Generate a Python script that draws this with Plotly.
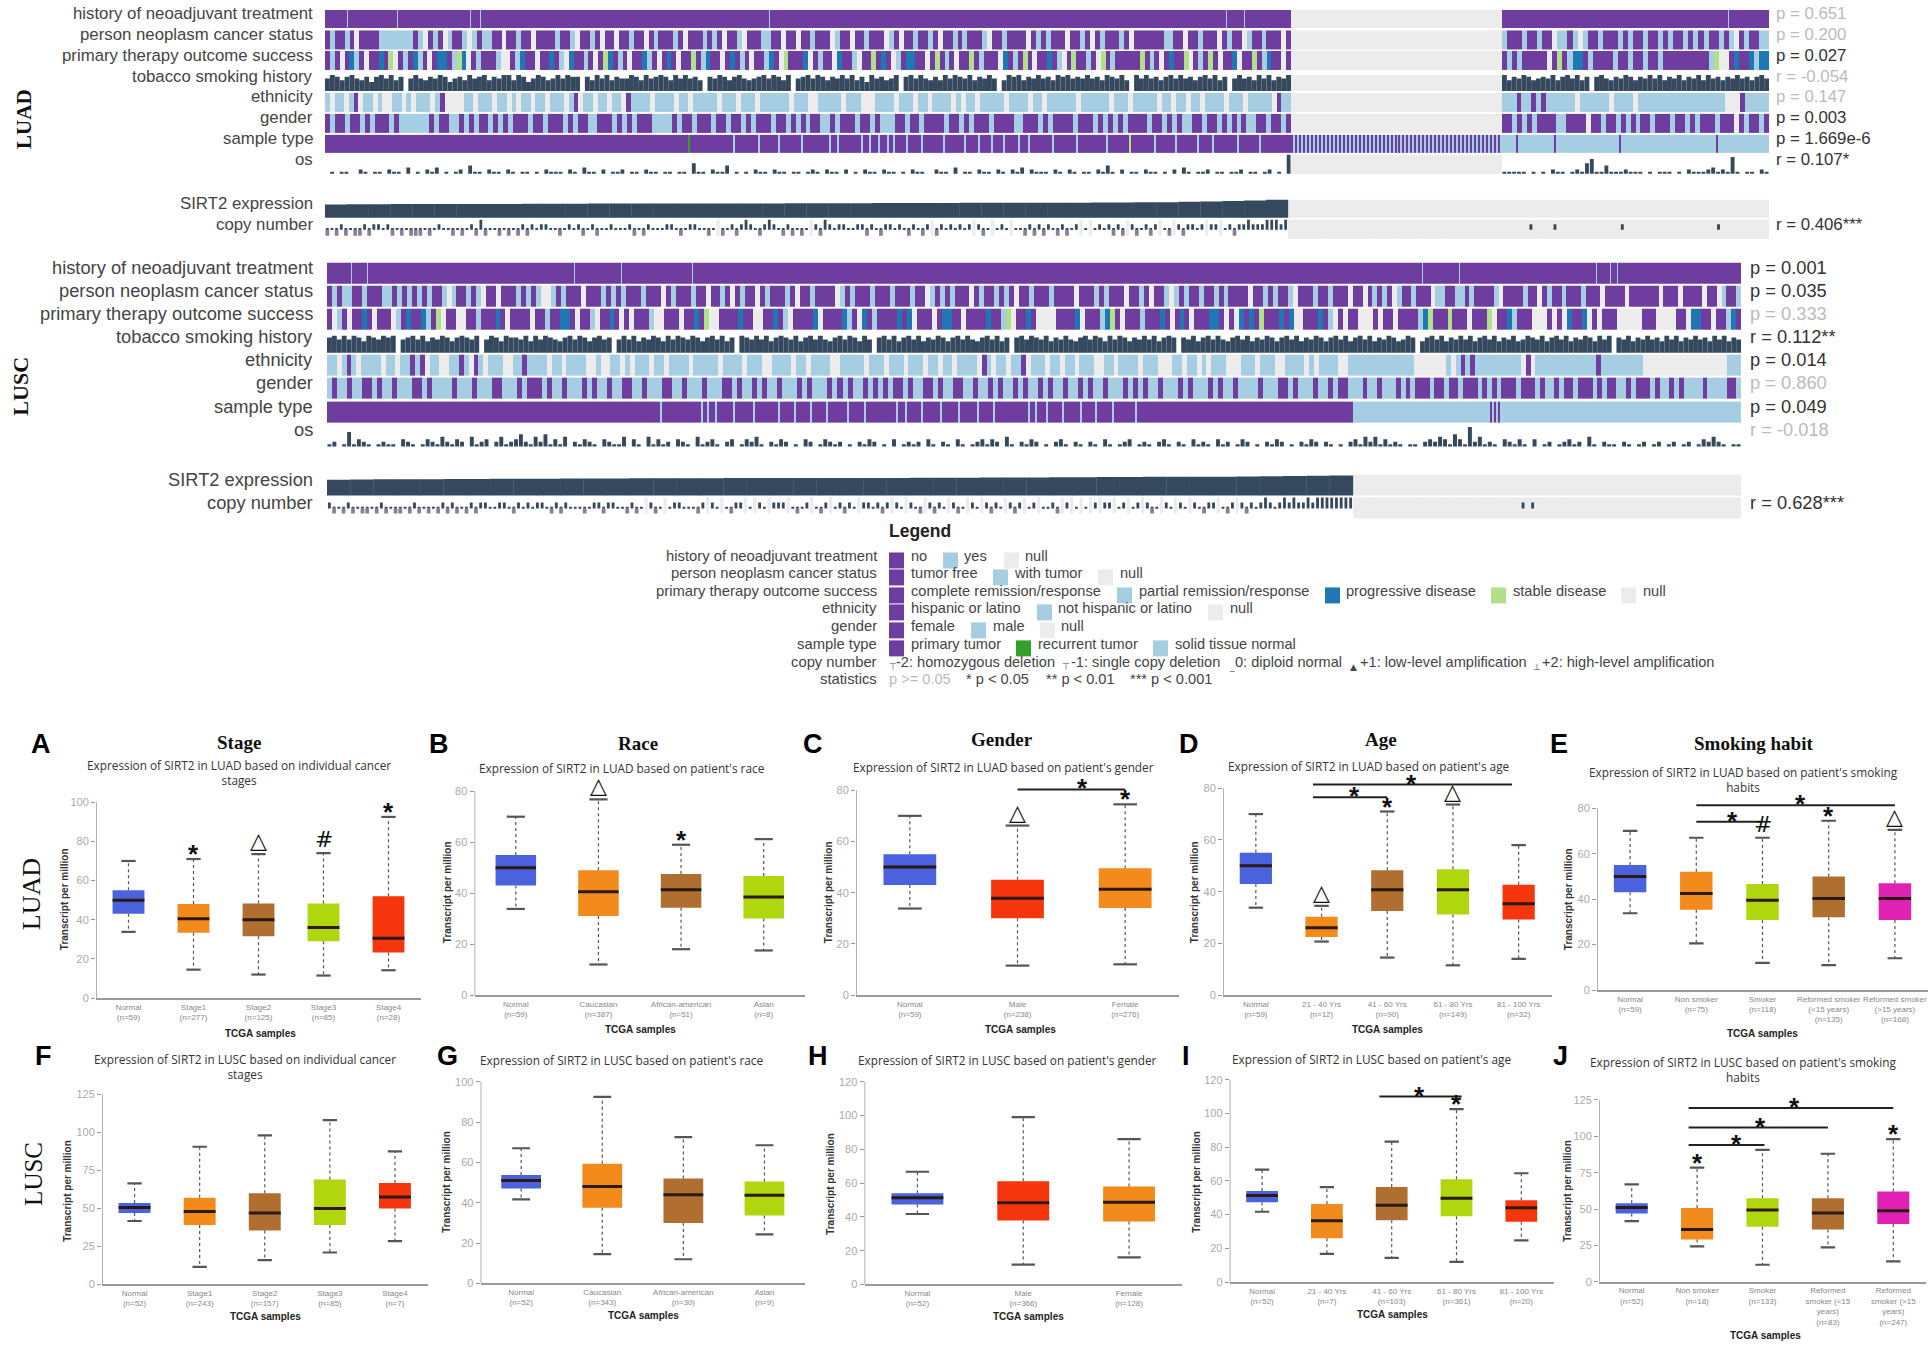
"""SIRT2 expression in LUAD and LUSC: oncoprint-style tracks and box plots by clinical group."""

import numpy as np
import plotly.graph_objects as go

W, H = 1932, 1351
Y_FIX = 1.0035  # small vertical stretch measured against the reference
SANS = "Liberation Sans"
SERIF = "Liberation Serif"
TITLE_FONT = "Open Sans"

# ---- track data: one letter per sample, P/B/G/D/L/R are the legend colours
CODES = {"P": 0, "B": 1, "G": 2, "D": 3, "L": 4, "R": 5}
TRACK_COLORS = ["#6f3c9f", "#a6cee3", "#ececec", "#1f78b4", "#b2df8a", "#33a02c"]
DARK = "#34495e"

TRACK_NAMES = [
    "history of neoadjuvant treatment", "person neoplasm cancer status",
    "primary therapy outcome success", "tobacco smoking history", "ethnicity",
    "gender", "sample type", "os",
]
LUAD_STATS = ["p = 0.651", "p = 0.200", "p = 0.027", "r = -0.054", "p = 0.147",
              "p = 0.003", "p = 1.669e-6", "r = 0.107*"]
LUAD_SIG = [0, 0, 1, 0, 0, 1, 1, 1]
LUSC_STATS = ["p = 0.001", "p = 0.035", "p = 0.333", "r = 0.112**", "p = 0.014",
              "p = 0.860", "p = 0.049", "r = -0.018"]
LUSC_SIG = [1, 1, 0, 1, 1, 0, 1, 0]

# sample indices where the mostly purple tracks break
LUAD_HIST_YES = [22, 72, 145, 155, 444, 901, 919, 1403]
LUSC_HIST_YES = [24, 40, 247, 294, 365, 1095, 1132, 1269, 1283, 1290]
LUAD_SAMPLE_BREAKS = [408, 433, 453, 476, 504, 512, 536, 544, 553, 562, 568, 581, 596, 618, 639,
                      653, 666, 678, 693, 703, 727, 751, 781, 829, 850, 872, 887, 912, 934]
LUAD_SAMPLE_RECURRENT = [363]
LUAD_SAMPLE_STABLE = [804]
LUAD_NORMAL_PRIMARY = [14, 52, 117, 214]
LUSC_SAMPLE_BREAKS = [333, 374, 380, 388, 406, 426, 451, 467, 483, 499, 520, 537, 569, 578, 594,
                      613, 631, 650, 666, 701, 708, 719, 735, 753, 768, 785, 808]
LUSC_NORMAL_PRIMARY = [137, 141, 145]

LUAD_STATUS_L = "PBPPBPGPPPPBBBBBBBPBGPBPGBPPBGBPBBPPGPPBPPGPPPPBPPBGPPBPGPPGPPBPPGPBPPPBPGPPPBPBPGPPBGPPPBBPPGPPGPPBPPPGBPPGPPBPPPGBPGPPBPPBPGPPBPBPPPBGPPBPPPPGPBPBPPPGPPBPGPBPPPBPGPPPPPPBBPPGPPBPPPGPBPPGBPPBPPPGP"
LUAD_STATUS_R = "BPPPBPPBPPGBBPBGBPPBPPPBPBPPBPPBPBPPBPBPBPPBPBGPBPPBB"
LUAD_THERAPY_L = "PBPGPDBPGPPDPLGPBPDBPGPDDPBLDGPBPPPBGGPBDPPGPPDPBGDPPBPGPLDPBPGPPDBPGPDPGPPLPBDPPGPDPBPGPPBDPGLPPPDGPBPPGDPPBGPPLPDPGBPDDPPGPLPBPGPPLPBPPPGDPBPLPGPPDPBGPLPPBPGLPBPPPPPLPBPGPDPPLGPBPLPGPPDGPPLPBDPPGP"
LUAD_THERAPY_R = "PBPBPPPPPGPLPBDDPBPPPPBPPBPPBPPBPPPPPPPPPBLGGPDPPDBDD"
LUAD_TOBACCO_L = "79868976858979680797687985786978968799698579867979880869796877986978986979786087986897678979869078979868797968597867908979768697987968797069896879786989787978698796097978689797868979680797869796879"
LUAD_TOBACCO_R = "9687986787968979680897687986879796879687969786879786897"
LUAD_ETHNIC_L = "BGBBGBPGBBGBGGBBGBGBBBGBPGGGGBBGBBBGBBGBGBBGBBGBBBGBPGBBGBBGBBGPBBBBGBBBBGBBGBBBBBGBBBGBBBGBBBBBBGBBBGGBBBBBGBBBGGGBBBBGBBBGBBGBBBBGBGBBGBBBBBGBBBBGBBGBBBBBBGBBBBBBGBBBGBBBBBGBBGBBGBBGBBBBGBBBGBBBBBGPBB"
LUAD_ETHNIC_R = "BBBPBBPBPBBBBBBGBBBBBBGBBBBGBBBBBBBBBBBBBBBBBBGGGPBBBBB"
LUAD_GENDER_L = "PBPPBPPBPBPPPBPBBBBBBPBPPBBPBPBPPBPBPBPPPBPPBPPPBPBPPBBPPPBPBPBPPPBBBBPBPPBPPPBPPBPPBPBPPPBPPBPBPBPPBBPBPPPBPPBPBBBPPBPPBPPPPBPPBPBPPPBPPPPBBPPPBPBPPPPBPPPBPBPBPBPPPPBPPBPBPBBPPBPPBPBPBPBBPPBPPBP"
LUAD_GENDER_R = "PPBPBPBPPPPBBPPPPGPPBPPBPBPBPPBPPPBPPBPBPPPBPPPGPBPPBP"
LUAD_OS_L = "01011002101102110301021301012041102110210110102111021031102011201102110110110511021140101021102110110121021102010211021101021100211030110211021021302111021021011021410201102110102031011201101120110120109"
LUAD_OS_R = "1111101010211012157114111211101011101021112312181011021"
LUAD_COPY_L = "n0n1n0nn1n1101n0n0nnn0n0100n0n01n2n00n0n0n1n101100n0101n01n0010001n0n1000110n01100n0.n01n1210n1210n1n0n0.1n210110011n10n11010n10n1.n1010101.1n0.010.00n1n1n10n1n01.0.0101n1n.1n01n1.0n.1n1101.11.01n11211122212"
LUAD_COPY_R = "..................................................1....1.............1...................1.........."
LUAD_SIRT2 = [.74, .75, .75, .76, .76, .76, .77, .77, .77, .78, .78, .78, .79, .79, .79, .79, .8, .8, .8, .8,
              .8, .81, .81, .81, .81, .82, .82, .82, .82, .83, .83, .83, .84, .84, .84, .85, .85, .86, .87, .89,
              .9, .93, .96, 1.0]

LUSC_STATUS_L = "PBPBBPPBPPPBBPBPBPBPBPPBGBPPBPBGPPGPPPBPBPBGGBPBPPPGPPPBPBPBPPPBPPPGPBPPPBPPGPPBPGPBPPGPBPPPBPGPPBPPPPGBPBPPPBPPPBPPPBPPGBPBPBPPPGPBPPBPBPGPPBPPPBPPPPGPPPBPBPPPGPPBPGPPBGBPBPPBPPBPBPPPPGPPBPBPPBGPPPBPPBPPPG"
LUSC_STATUS_R = "PPGPBPBPGBPPBPPPGBBPPBBPBPPPPBGPPPPBPPGPBPPBPPPBPPPGPPPPGPPPPPPGPPPGPPPPGPPGBPPB"
LUSC_THERAPY_L = "PGBPGPPDPGPPPGBPDPPDBPLGPPGGPPBPPPDPGPPPPGPPBPPDDPGPPBGPPDPGPGPPPBGGPPPGPPDPLGGPPPPDPPGGPPDPBGPPPPDGPPPPDBPGDPBPPPPDPDGPPPGPDDPPGPPPPDPPBLGPPDPGGGGPPPPDGPPPBDLPGPPPBPPPDPGPDPGPPPDDPGPGDPDPLPPPDPDGGPPPDPBGPGP"
LUSC_THERAPY_R = "PGGGPGPPGPPPPBDLPPPLPPPGPPPLGPPDBPPPGGGPGPGDPPDGPGPPPGGGGGPPPGGGGPPGDDPPGPPBDP"
LUSC_TOBACCO_L = "89797986987989078979687986898790798698879697987689798689780797968798697987986897968098797968987968979768979869708979689796879868979768979680897987968797689798697986879796898087968979768979687986897968798689796"
LUSC_TOBACCO_R = "897968798679806897968797968979687967987968979687986979087968797869796879786979687"
LUSC_ETHNIC_L = "BBGBPBGBBBBGBBGBBPBPGBBGGBBPBGPBGBBBGGBBPBBBBGBBGBBBBGGBGGBBGBGBBBGBBGBBBBGBBBBBGBBBBGBBBGGBBBBGBBGBBBBGGBBBBBGBBBGBBBGBBBGBBGBBGBBBBGPBGBBGBBPGBBBGBBGBBGBBBGGBBGBBBBGBBBGGGBBGBBGBGBBBGGGBBBGBBBGGBBBBGBGBBBBGGB"
LUSC_ETHNIC_R = "BBBBBBBBBBBBBGGGGGGGBGBPBPBBBBBBBBBBGPGBBBBBBBBBBBBBPBBBBBBBBBGGGGGGGGGGGGGGGGGGBBB"
LUSC_GENDER_L = "BPBBPBBPPBPBBPBBBPPBPBBBBPBBBPBBBPPBBBPBPPPBPBBPBBBPBPBBPBBPPBBPBBBPPBBPBBBPBBBPPBPBBPBPBBPBBBPBPBBBPBPBPBBPBPBPBPPBPBBPPBPBBPPBBPBBPBPBBPBPBBPBPBBPBBPBPBBPBBBPBPBPBBPBBBPBPBBBPBPBBPBBBBPBBBPPBPBBBPBBPBPPB"
LUSC_GENDER_R = "BBPBBPBBBPBPBPPPBPPBPPBPPPBPBPBPPPBPPPBPBBPBPPBPPPBPBPPBBPBPPPBPBBPBPBBBBPBBBBPPB"
LUSC_OS_L = "12016132101211032101321421320412302412352142513140213210321140310413120321041231023013241021320103201321201021320103012120310210310123132041021320102310210210310123012102310210312103120132010213201021320210102"
LUSC_OS_R = "314241312101102324315318241210321310301201231204102110210120120120120132421011"
LUSC_COPY_L = "1n0n1n0nn0n1n0nn0n1n0n0n1n1n0n1n1100110n1010110n1n1000n011n1100n1n0.1n0.011000n1.10.0n11.0.10.111.0n01.0n1.01n10.1101n1.10.10n.1n10.1n0.10.1n10.1n1.01.001n.1.0.0.1.11.01.01.1n0.10.10.10n11.0n1.1n1012101212112122222222"
LUSC_COPY_R = "...................................1.1..........................................."
LUSC_SIRT2 = [.75, .76, .77, .78, .78, .79, .79, .8, .8, .8, .81, .81, .81, .82, .82, .82, .82, .83, .83, .83,
              .83, .84, .84, .84, .84, .85, .85, .85, .86, .86, .86, .87, .87, .88, .88, .89, .89, .9, .9, .91,
              .92, .93, .94, .96]

# ---- box plot data (transcript per million)
BLUE, ORANGE, BROWN, LIME, RED, MAGENTA = "#4a62de", "#f28a1c", "#b06e30", "#b0d60e", "#f5360c", "#e022b4"

A_LABELS = ["Normal<br>(n=59)", "Stage1<br>(n=277)", "Stage2<br>(n=125)", "Stage3<br>(n=85)", "Stage4<br>(n=28)"]
A_UP = [70, 71, 73.5, 74, 92.5]
A_Q3 = [55, 48, 48.3, 48.3, 52]
A_MED = [50, 40.5, 40, 36, 30.5]
A_Q1 = [43, 33.3, 31.5, 29, 23.3]
A_LOW = [33.8, 14.5, 12, 11.5, 14.2]

B_LABELS = ["Normal<br>(n=59)", "Caucasian<br>(n=387)", "African-american<br>(n=51)", "Asian<br>(n=8)"]
B_UP = [70, 76.8, 59, 61.2]
B_Q3 = [55, 49, 47.5, 46.7]
B_MED = [50, 40.5, 41.3, 38.5]
B_Q1 = [43, 31, 34.3, 30]
B_LOW = [33.8, 12, 18, 17.5]

C_LABELS = ["Normal<br>(n=59)", "Male<br>(n=238)", "Female<br>(n=276)"]
C_UP = [70, 66.2, 74.5]
C_Q3 = [55, 45, 49.5]
C_MED = [50, 37.8, 41.3]
C_Q1 = [43, 30, 34]
C_LOW = [33.8, 11.5, 12]

D_LABELS = ["Normal<br>(n=59)", "21 - 40 Yrs<br>(n=12)", "41 - 60 Yrs<br>(n=90)", "61 - 80 Yrs<br>(n=149)", "81 - 100 Yrs<br>(n=32)"]
D_UP = [70, 34.5, 71, 73.7, 58]
D_Q3 = [55, 30.3, 48.3, 48.7, 42.7]
D_MED = [50, 26, 40.7, 40.7, 35.3]
D_Q1 = [43, 22.5, 32.5, 31.2, 29.2]
D_LOW = [33.8, 20.7, 14.5, 11.5, 14]

E_LABELS = ["Normal<br>(n=59)", "Non smoker<br>(n=75)", "Smoker<br>(n=118)", "Reformed smoker<br>(<15 years)<br>(n=135)", "Reformed smoker<br>(>15 years)<br>(n=168)"]
E_UP = [70, 67, 67, 74.5, 70.5]
E_Q3 = [55, 52, 46.7, 50, 47]
E_MED = [50, 42.5, 39.5, 40.3, 40.3]
E_Q1 = [43, 35.3, 30.8, 32, 30.8]
E_LOW = [33.8, 20.5, 12, 11, 14]

F_LABELS = ["Normal<br>(n=52)", "Stage1<br>(n=243)", "Stage2<br>(n=157)", "Stage3<br>(n=85)", "Stage4<br>(n=7)"]
F_UP = [66.5, 90.5, 98, 108, 87.5]
F_Q3 = [53.5, 57, 60, 69, 66.7]
F_MED = [50.5, 48, 47, 50, 57.5]
F_Q1 = [47, 39, 35.5, 39, 50]
F_LOW = [41.7, 11.5, 16, 21, 28.5]

G_LABELS = ["Normal<br>(n=52)", "Caucasian<br>(n=343)", "African-american<br>(n=30)", "Asian<br>(n=9)"]
G_UP = [67, 92.5, 72.5, 68.5]
G_Q3 = [53.7, 59.3, 52, 50.5]
G_MED = [51, 48, 44, 43.7]
G_Q1 = [47, 37.5, 30, 33.7]
G_LOW = [41.7, 14.5, 12, 24.3]

H_LABELS = ["Normal<br>(n=52)", "Male<br>(n=366)", "Female<br>(n=128)"]
H_UP = [66.7, 99, 86]
H_Q3 = [54, 61, 58]
H_MED = [51.3, 48.3, 48.7]
H_Q1 = [47.3, 37.8, 37.3]
H_LOW = [41.7, 11.7, 16]

I_LABELS = ["Normal<br>(n=52)", "21 - 40 Yrs<br>(n=7)", "41 - 60 Yrs<br>(n=103)", "61 - 80 Yrs<br>(n=361)", "81 - 100 Yrs<br>(n=20)"]
I_UP = [66.7, 56.3, 83.3, 102.5, 64.5]
I_Q3 = [54, 46.3, 56.3, 61, 48.5]
I_MED = [51.3, 36.3, 45.5, 49.7, 44]
I_Q1 = [47.3, 26, 36.7, 39, 35.7]
I_LOW = [41.7, 16.7, 14.3, 12, 24.7]

J_LABELS = ["Normal<br>(n=52)", "Non smoker<br>(n=18)", "Smoker<br>(n=133)", "Reformed<br>smoker (<15<br>years)<br>(n=83)", "Reformed<br>smoker (>15<br>years)<br>(n=247)"]
J_UP = [67, 78.5, 90.7, 88, 98]
J_Q3 = [54, 50.7, 57.5, 57.5, 62]
J_MED = [51, 36, 49.3, 47.3, 48.8]
J_Q1 = [47, 29, 37.8, 36, 39.7]
J_LOW = [41.7, 24.3, 11.7, 23.7, 14]

PANELS = [
    dict(letter="A", xy=(41, 745), labels=A_LABELS, low=A_LOW, q1=A_Q1, med=A_MED, q3=A_Q3, up=A_UP,
         colors=[BLUE, ORANGE, BROWN, LIME, RED], box=(96, 421, 999, 803), ymax=100, dtick=20,
         title="Expression of SIRT2 in LUAD based on individual cancer<br>stages", title_xy=(239, 773),
         head="Stage", head_xy=(239, 743), xt=(260, 1034), yt=(64, 900),
         marks=[(1, "*"), (2, "△"), (3, "#"), (4, "*")], brackets=[]),
    dict(letter="B", xy=(439, 745), labels=B_LABELS, low=B_LOW, q1=B_Q1, med=B_MED, q3=B_Q3, up=B_UP,
         colors=[BLUE, ORANGE, BROWN, LIME], box=(474.5, 805, 996, 792), ymax=80, dtick=20,
         title="Expression of SIRT2 in LUAD based on patient's race", title_xy=(622, 769),
         head="Race", head_xy=(638, 744), xt=(640, 1030), yt=(447, 893),
         marks=[(1, "△"), (2, "*")], brackets=[]),
    dict(letter="C", xy=(813, 745), labels=C_LABELS, low=C_LOW, q1=C_Q1, med=C_MED, q3=C_Q3, up=C_UP,
         colors=[BLUE, RED, ORANGE], box=(856, 1179, 996, 791), ymax=80, dtick=20,
         title="Expression of SIRT2 in LUAD based on patient's gender", title_xy=(1003, 768),
         head="Gender", head_xy=(1002, 740), xt=(1021, 1030), yt=(828, 893),
         marks=[(1, "△"), (2, "*")], brackets=[(1, 2, 80.3, 1.6)]),
    dict(letter="D", xy=(1188.5, 745), labels=D_LABELS, low=D_LOW, q1=D_Q1, med=D_MED, q3=D_Q3, up=D_UP,
         colors=[BLUE, ORANGE, BROWN, LIME, RED], box=(1223, 1551.5, 996, 789), ymax=80, dtick=20,
         title="Expression of SIRT2 in LUAD based on patient's age", title_xy=(1369, 767),
         head="Age", head_xy=(1381, 740), xt=(1387, 1030), yt=(1194, 893),
         marks=[(1, "△"), (2, "*"), (3, "△")], brackets=[(0.87, 2, 76.5, 1.5), (0.87, 3.9, 81.4, 2.37)]),
    dict(letter="E", xy=(1559, 745), labels=E_LABELS, low=E_LOW, q1=E_Q1, med=E_MED, q3=E_Q3, up=E_UP,
         colors=[BLUE, ORANGE, LIME, BROWN, MAGENTA], box=(1597, 1928, 991, 809), ymax=80, dtick=20,
         title="Expression of SIRT2 in LUAD based on patient's smoking<br>habits", title_xy=(1743, 780),
         head="Smoking habit", head_xy=(1753, 744), xt=(1762, 1034), yt=(1568, 900),
         marks=[(2, "#"), (3, "*"), (4, "△")], brackets=[(1, 2, 74, 1.55), (1, 4, 81.3, 2.57)]),
    dict(letter="F", xy=(43, 1057), labels=F_LABELS, low=F_LOW, q1=F_Q1, med=F_MED, q3=F_Q3, up=F_UP,
         colors=[BLUE, ORANGE, BROWN, LIME, RED], box=(102, 427.5, 1285.7, 1095.3), ymax=125, dtick=25,
         title="Expression of SIRT2 in LUSC based on individual cancer<br>stages", title_xy=(245, 1068),
         xt=(265, 1318), yt=(68, 1192), marks=[], brackets=[]),
    dict(letter="G", xy=(447, 1057), labels=G_LABELS, low=G_LOW, q1=G_Q1, med=G_MED, q3=G_Q3, up=G_UP,
         colors=[BLUE, ORANGE, BROWN, LIME], box=(480.6, 805, 1284.7, 1082.7), ymax=100, dtick=20,
         title="Expression of SIRT2 in LUSC based on patient's race", title_xy=(622, 1061),
         xt=(643, 1317), yt=(447, 1183), marks=[], brackets=[]),
    dict(letter="H", xy=(818, 1057), labels=H_LABELS, low=H_LOW, q1=H_Q1, med=H_MED, q3=H_Q3, up=H_UP,
         colors=[BLUE, RED, ORANGE], box=(864.5, 1182, 1285.7, 1082.7), ymax=120, dtick=20,
         title="Expression of SIRT2 in LUSC based on patient's gender", title_xy=(1007, 1061),
         xt=(1028, 1318), yt=(831, 1185), marks=[], brackets=[]),
    dict(letter="I", xy=(1186, 1057), labels=I_LABELS, low=I_LOW, q1=I_Q1, med=I_MED, q3=I_Q3, up=I_UP,
         colors=[BLUE, ORANGE, BROWN, LIME, RED], box=(1229.7, 1553.7, 1283.3, 1080.7), ymax=120, dtick=20,
         title="Expression of SIRT2 in LUSC based on patient's age", title_xy=(1371, 1060),
         xt=(1392, 1316), yt=(1197, 1183), marks=[(3, "*")], brackets=[(1.81, 3.08, 110, 2.43)]),
    dict(letter="J", xy=(1560, 1057), labels=J_LABELS, low=J_LOW, q1=J_Q1, med=J_MED, q3=J_Q3, up=J_UP,
         colors=[BLUE, ORANGE, LIME, BROWN, MAGENTA], box=(1599, 1926, 1283, 1101), ymax=125, dtick=25,
         title="Expression of SIRT2 in LUSC based on patient's smoking<br>habits", title_xy=(1743, 1071),
         xt=(1765, 1337), yt=(1568, 1192), marks=[(1, "*"), (4, "*")],
         brackets=[(0.87, 2.03, 94, 1.61), (0.87, 3, 106, 1.97), (0.87, 4, 119.5, 2.49)]),
]

fig = go.Figure()
annotations = []
shapes = []


def px_x(x):
    return x / W


def px_y(y):
    return 1 - y * Y_FIX / H


def ann(x, y, text, size=12, color="#333", anchor="left", family=SANS, **kw):
    # annotation boxes carry a little padding, the nudge lines the glyphs up
    nudge = {"left": -2, "right": 2, "center": 0}[anchor]
    annotations.append(dict(x=px_x(x + nudge), y=px_y(y), xref="paper", yref="paper", text=text, showarrow=False,
                            xanchor=anchor, yanchor="middle", font=dict(size=size, color=color, family=family), **kw))


def add_strip(axis, code_row, start, width, top, bottom):
    """One categorical row: every letter becomes one heatmap cell."""
    edges = np.linspace(start, start + width, len(code_row) + 1)
    fig.add_trace(go.Heatmap(
        z=[[CODES[c] for c in code_row]], x=edges, y=[bottom, top], xaxis=f"x{axis}", yaxis=f"y{axis}",
        zmin=-0.5, zmax=5.5, showscale=False, hoverinfo="skip",
        colorscale=[[v, TRACK_COLORS[int(i)]] for i in range(6) for v in (i / 6, (i + 1) / 6)],
    ))


def add_bars(axis, heights, start, width, bottom, height, fill=1.0):
    """One bar row, heights are digits 0-9."""
    vals = [int(c) for c in heights]
    dx = width / len(vals)
    fig.add_trace(go.Bar(
        x=start + (np.arange(len(vals)) + 0.5) * dx, y=[-height * v / 9 for v in vals], base=bottom, width=dx * fill,
        marker=dict(color=DARK, line=dict(width=0)), xaxis=f"x{axis}", yaxis=f"y{axis}", hoverinfo="skip",
    ))


def add_copy(axis, row, start, width, mid, up_h, down_h):
    dx = width / len(row)
    up = {"1": up_h * 0.55, "2": up_h, "0": 1.2, "n": 1.2}
    xs = start + (np.arange(len(row)) + 0.5) * dx
    fig.add_trace(go.Bar(
        x=xs, y=[up_h + down_h if c == "." else 0 for c in row], base=mid - up_h, width=dx * 0.7,
        marker=dict(color="#ececec", line=dict(width=0)), xaxis=f"x{axis}", yaxis=f"y{axis}", hoverinfo="skip"))
    fig.add_trace(go.Bar(
        x=xs, y=[-up.get(c, 0) for c in row], base=mid, width=dx * 0.6, marker=dict(color=DARK, line=dict(width=0)),
        xaxis=f"x{axis}", yaxis=f"y{axis}", hoverinfo="skip"))
    fig.add_trace(go.Bar(
        x=xs, y=[down_h if c == "n" else 0 for c in row], base=mid, width=dx * 0.8,
        marker=dict(color="#8b7f96", line=dict(width=0)), xaxis=f"x{axis}", yaxis=f"y{axis}", hoverinfo="skip"))


def with_breaks(base, size, breaks, code="B", span=2):
    row = [base] * size
    for b in breaks:
        for k in range(span):
            row[b + k] = code
    return row


def add_expression(axis, values, width, bottom, height):
    dx = width / len(values)
    fig.add_trace(go.Bar(
        x=(np.arange(len(values)) + 0.5) * dx, y=[-height * v for v in values], base=bottom, width=dx + 0.3,
        marker=dict(color=DARK, line=dict(width=0)), xaxis=f"x{axis}", yaxis=f"y{axis}", hoverinfo="skip"))


# ---- LUAD tracks, px coordinates inside the axis
LUAD_X = (325, 1769)
LUAD_ROWS = [(10, 28), (30.5, 50), (51, 70), (75, 91), (93, 112), (114, 133), (135, 153), (155, 174)]
LUAD_LEFT, LUAD_GAP, LUAD_RIGHT = 966, 211, 267
LUAD_TOTAL = LUAD_X[1] - LUAD_X[0]

add_strip(1, with_breaks("P", LUAD_TOTAL, LUAD_HIST_YES, "B", 1)[:LUAD_LEFT], 0, LUAD_LEFT, *LUAD_ROWS[0])
add_strip(1, "G", LUAD_LEFT, LUAD_GAP, *LUAD_ROWS[0])
add_strip(1, with_breaks("P", LUAD_TOTAL, LUAD_HIST_YES, "B", 1)[LUAD_LEFT + LUAD_GAP:], LUAD_LEFT + LUAD_GAP, LUAD_RIGHT, *LUAD_ROWS[0])
for r, (left, right) in zip([1, 2, 4, 5], [(LUAD_STATUS_L, LUAD_STATUS_R), (LUAD_THERAPY_L, LUAD_THERAPY_R),
                                           (LUAD_ETHNIC_L, LUAD_ETHNIC_R), (LUAD_GENDER_L, LUAD_GENDER_R)]):
    add_strip(1, left, 0, LUAD_LEFT, *LUAD_ROWS[r])
    add_strip(1, "G", LUAD_LEFT, LUAD_GAP, *LUAD_ROWS[r])
    add_strip(1, right, LUAD_LEFT + LUAD_GAP, LUAD_RIGHT, *LUAD_ROWS[r])

sample_row = with_breaks("P", LUAD_LEFT, LUAD_SAMPLE_BREAKS)
sample_row = [("R" if any(b <= i < b + 2 for b in LUAD_SAMPLE_RECURRENT) else "L" if any(b <= i < b + 2 for b in LUAD_SAMPLE_STABLE) else c)
              for i, c in enumerate(sample_row)]
add_strip(1, sample_row, 0, LUAD_LEFT, *LUAD_ROWS[6])
add_strip(1, "PB" * 53, LUAD_LEFT, LUAD_GAP, *LUAD_ROWS[6])
add_strip(1, with_breaks("B", LUAD_RIGHT, LUAD_NORMAL_PRIMARY, "P"), LUAD_LEFT + LUAD_GAP, LUAD_RIGHT, *LUAD_ROWS[6])

for r, (left, right), fill in zip([3, 7], [(LUAD_TOBACCO_L, LUAD_TOBACCO_R), (LUAD_OS_L, LUAD_OS_R)], [1.0, 0.8]):
    top, bottom = LUAD_ROWS[r]
    add_strip(1, "G", LUAD_LEFT, LUAD_GAP, top, bottom)
    add_bars(1, left, 0, LUAD_LEFT, bottom, bottom - top, fill)
    add_bars(1, right, LUAD_LEFT + LUAD_GAP, LUAD_RIGHT, bottom, bottom - top, fill)

add_strip(1, "G", 963, 481, 200, 218)
add_expression(1, LUAD_SIRT2, 963, 218, 18)
add_strip(1, "G", 963, 481, 220, 239)
add_copy(1, LUAD_COPY_L, 0, 963, 230, 10, 6)
add_copy(1, LUAD_COPY_R, 963, 481, 230, 10, 6)

# ---- LUSC tracks
LUSC_X = (327, 1741)
LUSC_ROWS = [(263, 284), (286, 307), (309, 330), (336, 353), (355, 376), (378, 399), (402, 423), (425, 447)]
LUSC_LEFT, LUSC_RIGHT = 1026, 388
LUSC_TOTAL = LUSC_X[1] - LUSC_X[0]

add_strip(2, with_breaks("P", LUSC_TOTAL, LUSC_HIST_YES, "B", 1), 0, LUSC_TOTAL, *LUSC_ROWS[0])
for r, (left, right) in zip([1, 2, 4, 5], [(LUSC_STATUS_L, LUSC_STATUS_R), (LUSC_THERAPY_L, LUSC_THERAPY_R),
                                           (LUSC_ETHNIC_L, LUSC_ETHNIC_R), (LUSC_GENDER_L, LUSC_GENDER_R)]):
    add_strip(2, left, 0, LUSC_LEFT, *LUSC_ROWS[r])
    add_strip(2, right, LUSC_LEFT, LUSC_RIGHT, *LUSC_ROWS[r])
add_strip(2, with_breaks("P", LUSC_LEFT, LUSC_SAMPLE_BREAKS), 0, LUSC_LEFT, *LUSC_ROWS[6])
add_strip(2, with_breaks("B", LUSC_RIGHT, LUSC_NORMAL_PRIMARY, "P"), LUSC_LEFT, LUSC_RIGHT, *LUSC_ROWS[6])
for r, (left, right), fill in zip([3, 7], [(LUSC_TOBACCO_L, LUSC_TOBACCO_R), (LUSC_OS_L, LUSC_OS_R)], [1.0, 0.8]):
    top, bottom = LUSC_ROWS[r]
    add_bars(2, left, 0, LUSC_LEFT, bottom, bottom - top, fill)
    add_bars(2, right, LUSC_LEFT, LUSC_RIGHT, bottom, bottom - top, fill)

add_strip(2, "G", LUSC_LEFT, LUSC_RIGHT, 475, 496)
add_expression(2, LUSC_SIRT2, LUSC_LEFT, 496, 21)
add_strip(2, "G", LUSC_LEFT, LUSC_RIGHT, 498, 519)
add_copy(2, LUSC_COPY_L, 0, LUSC_LEFT, 509, 11, 5)
add_copy(2, LUSC_COPY_R, LUSC_LEFT, LUSC_RIGHT, 509, 11, 5)

layout = dict(
    width=W, height=H, margin=dict(l=0, r=0, t=0, b=0), paper_bgcolor="white", plot_bgcolor="white",
    showlegend=False, barmode="overlay", autosize=False,
)
TRACK_AXIS = dict(visible=False, showgrid=False, zeroline=False, fixedrange=True)
layout["xaxis"] = dict(TRACK_AXIS, domain=[px_x(LUAD_X[0]), px_x(LUAD_X[1])], range=[0, LUAD_TOTAL], anchor="y")
layout["yaxis"] = dict(TRACK_AXIS, domain=[px_y(240), px_y(8)], range=[240, 8], anchor="x")
layout["xaxis2"] = dict(TRACK_AXIS, domain=[px_x(LUSC_X[0]), px_x(LUSC_X[1])], range=[0, LUSC_TOTAL], anchor="y2")
layout["yaxis2"] = dict(TRACK_AXIS, domain=[px_y(521), px_y(261)], range=[521, 261], anchor="x2")

# track labels and statistics
LUAD_LABEL_Y = [14, 35, 56, 77, 97, 118, 139, 160]
LUSC_LABEL_Y = [268, 291, 314, 337, 360, 383, 407, 430]
for name, y, stat, sig in zip(TRACK_NAMES, LUAD_LABEL_Y, LUAD_STATS, LUAD_SIG):
    ann(313, y, name, 16.8, "#444", "right")
    ann(1776, y, stat, 16.8, "#333" if sig else "#bbb")
ann(313, 204, "SIRT2 expression", 16.8, "#444", "right")
ann(313, 225, "copy number", 16.8, "#444", "right")
ann(1776, 225, "r = 0.406***", 16.8)
for name, y, stat, sig in zip(TRACK_NAMES, LUSC_LABEL_Y, LUSC_STATS, LUSC_SIG):
    ann(313, y, name, 18.3, "#444", "right")
    ann(1750, y, stat, 18.3, "#333" if sig else "#bbb")
ann(313, 480, "SIRT2 expression", 18.3, "#444", "right")
ann(313, 503, "copy number", 18.3, "#444", "right")
ann(1750, 503, "r = 0.628***", 18.3)
ann(24, 119, "<b>LUAD</b>", 21, "#111", "center", SERIF, textangle=-90)
ann(21, 387, "<b>LUSC</b>", 22, "#111", "center", SERIF, textangle=-90)
ann(31, 895, "LUAD", 26, "#111", "center", SERIF, textangle=-90)
ann(34, 1175, "LUSC", 25, "#111", "center", SERIF, textangle=-90)

# ---- legend
ann(889, 532, "<b>Legend</b>", 17.5, "#222")
LEGEND_ROWS = [
    ("history of neoadjuvant treatment", 557, [("#6f3c9f", "no", 889, 911), ("#a6cee3", "yes", 943, 964), ("#ececec", "null", 1004, 1025)]),
    ("person neoplasm cancer status", 574, [("#6f3c9f", "tumor free", 889, 911), ("#a6cee3", "with tumor", 993, 1014), ("#ececec", "null", 1098, 1120)]),
    ("primary therapy outcome success", 592, [("#6f3c9f", "complete remission/response", 889, 911), ("#a6cee3", "partial remission/response", 1117, 1139),
                                              ("#1f78b4", "progressive disease", 1325, 1346), ("#b2df8a", "stable disease", 1491, 1513), ("#ececec", "null", 1621, 1643)]),
    ("ethnicity", 609, [("#6f3c9f", "hispanic or latino", 889, 911), ("#a6cee3", "not hispanic or latino", 1037, 1058), ("#ececec", "null", 1208, 1230)]),
    ("gender", 627, [("#6f3c9f", "female", 889, 911), ("#a6cee3", "male", 971, 993), ("#ececec", "null", 1040, 1061)]),
    ("sample type", 645, [("#6f3c9f", "primary tumor", 889, 911), ("#33a02c", "recurrent tumor", 1016, 1038), ("#a6cee3", "solid tissue normal", 1153, 1175)]),
]
for name, y, items in LEGEND_ROWS:
    ann(877, y, name, 14.8, "#444", "right")
    for color, text, sx, tx in items:
        shapes.append(dict(type="rect", xref="paper", yref="paper", x0=px_x(sx), x1=px_x(sx + 15), y0=px_y(y + 12), y1=px_y(y - 4),
                           fillcolor=color, line=dict(width=0)))
        ann(tx, y, text, 14.6, "#444")
ann(877, 663, "copy number", 14.8, "#444", "right")
for x, glyph, text, tx in [(889, "⊤", "-2: homozygous deletion", 896), (1062, "⊤", "-1: single copy deletion", 1071), (1229, "_", "0: diploid normal", 1235),
                           (1350, "▲", "+1: low-level amplification", 1360), (1533, "⊥", "+2: high-level amplification", 1542)]:
    ann(x, 668, glyph, 9, DARK, family="DejaVu Sans")
    ann(tx, 663, text, 14.6, "#444")
ann(877, 680, "statistics", 14.8, "#444", "right")
ann(889, 680, "p >= 0.05", 14.6, "#bbb")
ann(966, 680, "* p < 0.05", 14.6, "#444")
ann(1046, 680, "** p < 0.01", 14.6, "#444")
ann(1130, 680, "*** p < 0.001", 14.6, "#444")

# ---- box plots
BOX_HALF = 0.245
CAP_HALF = 0.11
HEADROOM = 1.2  # axis range goes past the last tick so the marks above it stay drawn


def segments(x0s, x1s, y0s, y1s):
    xs, ys = [], []
    for a, b, c, d in zip(x0s, x1s, y0s, y1s):
        xs += [a, b, None]
        ys += [c, d, None]
    return xs, ys


for n, p in enumerate(PANELS, start=3):
    left, right, zero_px, top_px = p["box"]
    idx = list(range(len(p["labels"])))
    xa, ya = f"x{n}", f"y{n}"
    fig.add_trace(go.Bar(x=idx, y=[b - a for a, b in zip(p["q1"], p["q3"])], base=p["q1"], width=BOX_HALF * 2,
                         marker=dict(color=p["colors"], line=dict(width=0)), xaxis=xa, yaxis=ya, hoverinfo="skip"))
    xs, ys = segments(idx + idx, idx + idx, p["q3"] + p["q1"], p["up"] + p["low"])
    fig.add_trace(go.Scatter(x=xs, y=ys, mode="lines", line=dict(color="#555", width=1.2, dash="dot"), xaxis=xa, yaxis=ya, hoverinfo="skip"))
    lefts = [i - CAP_HALF for i in idx]
    rights = [i + CAP_HALF for i in idx]
    xs, ys = segments(lefts + lefts, rights + rights, p["up"] + p["low"], p["up"] + p["low"])
    fig.add_trace(go.Scatter(x=xs, y=ys, mode="lines", line=dict(color="#555", width=2.2), xaxis=xa, yaxis=ya, hoverinfo="skip"))
    xs, ys = segments([i - BOX_HALF for i in idx], [i + BOX_HALF for i in idx], p["med"], p["med"])
    fig.add_trace(go.Scatter(x=xs, y=ys, mode="lines", line=dict(color="#2a1a10", width=3), xaxis=xa, yaxis=ya, hoverinfo="skip"))
    fig.add_trace(go.Scatter(x=[-0.5, -0.5], y=[0, p["ymax"]], mode="lines", line=dict(color="#999", width=1.5), cliponaxis=False,
                             xaxis=xa, yaxis=ya, hoverinfo="skip"))
    for x0, x1, y, star_x in p["brackets"]:
        fig.add_trace(go.Scatter(x=[x0, x1], y=[y, y], mode="lines", line=dict(color="#222", width=2), xaxis=xa, yaxis=ya, hoverinfo="skip"))
        annotations.append(dict(x=star_x, y=y, xref=xa, yref=ya, text="<b>*</b>", showarrow=False, yanchor="bottom", yshift=-16,
                                font=dict(size=26, color="#111", family=SANS)))
    for i, mark in p["marks"]:
        is_star = mark == "*"
        annotations.append(dict(x=i, y=p["up"][i], xref=xa, yref=ya, text="<b>*</b>" if is_star else mark, showarrow=False, yanchor="bottom",
                                yshift=-12 if is_star else -1,
                                font=dict(size=26 if is_star else 22, color="#111", family=SANS if is_star else "DejaVu Sans")))
    top_value = p["ymax"] * HEADROOM
    top_edge = zero_px - (zero_px - top_px) * HEADROOM
    layout[f"xaxis{n}"] = dict(domain=[px_x(left), px_x(right)], anchor=ya, range=[-0.5, len(idx) - 0.5], showgrid=False, zeroline=False,
                               showline=True, linecolor="#999", linewidth=2, tickmode="array", tickvals=idx, ticktext=p["labels"],
                               ticks="", tickfont=dict(size=8, color="#888", family=SANS), fixedrange=True)
    layout[f"yaxis{n}"] = dict(domain=[px_y(zero_px), px_y(top_edge)], anchor=xa, range=[0, top_value], showgrid=False,
                               tickvals=list(range(0, p["ymax"] + 1, p["dtick"])),
                               zeroline=False, showline=False, ticks="outside", ticklen=4, tickcolor="#999",
                               tickfont=dict(size=11, color="#aaa", family=SANS), fixedrange=True)
    ann(p["xy"][0], p["xy"][1], f"<b>{p['letter']}</b>", 27, "#000", "center", SANS)
    if "head" in p:
        ann(p["head_xy"][0], p["head_xy"][1], f"<b>{p['head']}</b>", 19, "#111", "center", SERIF)
    ann(p["title_xy"][0], p["title_xy"][1], p["title"], 11.8, "#333", "center", TITLE_FONT)
    ann(p["xt"][0], p["xt"][1], "<b>TCGA samples</b>", 10, "#222", "center", SANS)
    ann(p["yt"][0], p["yt"][1], "<b>Transcript per million</b>", 10, "#333", "center", SANS, textangle=-90)

layout["annotations"] = annotations
layout["shapes"] = shapes
fig.update_layout(**layout)
# no modebar, and no default body margin so the figure fills the window from its corner
fig.write_html("out.html", config={"displayModeBar": False}, post_script="document.body.style.margin='0';")
